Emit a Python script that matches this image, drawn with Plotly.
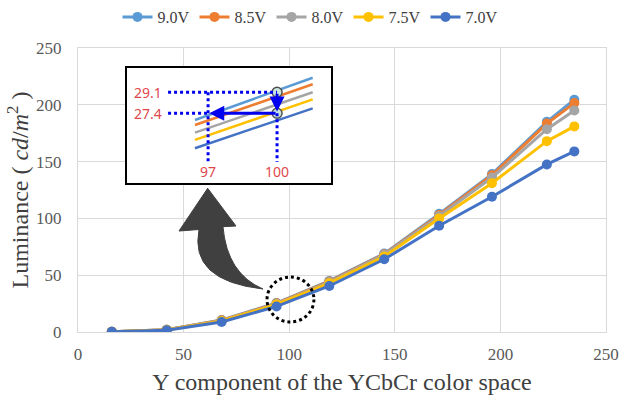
import plotly.graph_objects as go

# ---------------- data ----------------
x_vals = [16, 42, 68, 94, 119, 145, 171, 196, 222, 235]
series_names = ["9.0V", "8.5V", "8.0V", "7.5V", "7.0V"]
y_90 = [0.3, 2.0, 10.5, 25.5, 45.0, 69.0, 104.0, 139.0, 185.0, 204.5]
y_85 = [0.3, 2.0, 10.3, 25.2, 44.5, 68.5, 103.0, 138.0, 183.5, 201.5]
y_80 = [0.3, 1.9, 10.0, 24.8, 44.0, 68.0, 102.0, 136.0, 178.5, 195.0]
y_75 = [0.3, 1.8, 9.7, 24.3, 43.0, 66.5, 100.0, 131.0, 168.0, 181.0]
y_70 = [0.2, 1.5, 8.8, 22.5, 40.5, 64.0, 93.5, 119.0, 147.5, 159.0]
colors = ["#5B9BD5", "#ED7D31", "#A5A5A5", "#FFC000", "#4472C4"]

# inset (zoomed view around Y=97..100)
inset_x = [96.43, 101.55]
inset_90 = [26.86, 30.28]
inset_85 = [26.45, 29.75]
inset_80 = [25.83, 29.10]
inset_75 = [25.24, 28.53]
inset_70 = [24.57, 27.80]
zoom_x = [97, 100]
zoom_y = [27.4, 29.1]
zoom_labels_y = ["27.4", "29.1"]
zoom_labels_x = ["97", "100"]

x_ticks = [0, 50, 100, 150, 200, 250]
y_ticks = [0, 50, 100, 150, 200, 250]

# ---------------- layout geometry ----------------
W, H = 620, 401
ML, MT = 78, 48
MR, MB = W - 606, H - 332
PW, PH = W - ML - MR, H - MT - MB


def px(x, y):
    return (x - ML) / PW, 1 - (y - MT) / PH


fig = go.Figure()
all_y = [y_90, y_85, y_80, y_75, y_70]
for name, ys, c in zip(series_names, all_y, colors):
    fig.add_trace(go.Scatter(
        x=x_vals, y=ys, name=name, mode="lines+markers",
        line=dict(color=c, width=3), marker=dict(color=c, size=10),
    ))

inset_all = [inset_90, inset_85, inset_80, inset_75, inset_70]
for name, ys, c in zip(series_names, inset_all, colors):
    fig.add_trace(go.Scatter(
        x=inset_x, y=ys, mode="lines", showlegend=False, hoverinfo="skip",
        line=dict(color=c, width=2.5), xaxis="x2", yaxis="y2",
    ))

# inset x-domain / ranges
ix0, iy1 = px(126, 67)
ix1, iy0 = px(332, 184)
in_xr = [93.43, 102.39]
in_yr = [21.67, 31.15]
lab_x = 94.39
lab_y = 22.65
bot_y = 23.46
left_x = 95.26

shapes = []
# inset box
shapes.append(dict(type="rect", xref="paper", yref="paper", x0=ix0, x1=ix1, y0=iy0, y1=iy1,
                   line=dict(color="black", width=2), fillcolor="rgba(0,0,0,0)", layer="above"))
dot = dict(color="#0000EE", width=3, dash="dot")
shapes += [
    dict(type="line", xref="x2", yref="y2", x0=left_x, x1=zoom_x[1], y0=zoom_y[1], y1=zoom_y[1], line=dot),
    dict(type="line", xref="x2", yref="y2", x0=left_x, x1=zoom_x[0], y0=zoom_y[0], y1=zoom_y[0], line=dot),
    dict(type="line", xref="x2", yref="y2", x0=zoom_x[0], x1=zoom_x[0], y0=zoom_y[1], y1=bot_y, line=dot),
    dict(type="line", xref="x2", yref="y2", x0=zoom_x[1], x1=zoom_x[1], y0=zoom_y[0], y1=bot_y, line=dot),
]
# dotted circle on the main chart
shapes.append(dict(type="circle", xref="x", yref="y", x0=100.6 - 11.1, x1=100.6 + 11.1,
                   y0=28.6 - 19.8, y1=28.6 + 19.8,
                   line=dict(color="black", width=3, dash="dot")))

# big curved arrow
def P(x, y):
    a, b = px(x, y)
    return f"{a:.4f},{b:.4f}"

path = (f"M {P(179,231)} L {P(207.7,188.3)} L {P(236,226)} L {P(223,226.7)} "
        f"Q {P(227,273.6)} {P(263,289)} Q {P(189,280.8)} {P(199,229.5)} Z")
shapes.append(dict(type="path", xref="paper", yref="paper", path=path,
                   fillcolor="#404040", line=dict(color="#404040", width=1)))

red = "#E0474C"
lf = dict(family="Noto Sans, Open Sans, sans-serif", size=14, color=red)
annotations = []
for v, t in zip(zoom_y, zoom_labels_y):
    annotations.append(dict(x=lab_x, y=v, xref="x2", yref="y2", text=t, showarrow=False, font=lf))
for v, t in zip(zoom_x, zoom_labels_x):
    annotations.append(dict(x=v, y=lab_y, xref="x2", yref="y2", text=t, showarrow=False, font=lf))
# solid blue arrows
annotations.append(dict(x=zoom_x[1], y=zoom_y[0] + 0.15, ax=zoom_x[1], ay=zoom_y[1],
                        xref="x2", yref="y2", axref="x2", ayref="y2", text="",
                        showarrow=True, arrowhead=2, arrowsize=1, arrowwidth=3, arrowcolor="#0000EE"))
annotations.append(dict(x=zoom_x[0] + 0.05, y=zoom_y[0], ax=zoom_x[1], ay=zoom_y[0],
                        xref="x2", yref="y2", axref="x2", ayref="y2", text="",
                        showarrow=True, arrowhead=2, arrowsize=1, arrowwidth=3, arrowcolor="#0000EE"))

fig.add_trace(go.Scatter(
    x=[zoom_x[1], zoom_x[1]], y=zoom_y, mode="markers", showlegend=False, hoverinfo="skip",
    marker=dict(color="#C8E4DC", size=10, line=dict(color="#505050", width=1.5)),
    xaxis="x2", yaxis="y2",
))

serif = "Liberation Serif, Times New Roman, serif"
fig.update_layout(
    width=W, height=H,
    margin=dict(l=ML, r=MR, t=MT, b=MB, autoexpand=False),
    paper_bgcolor="white", plot_bgcolor="white",
    font=dict(family=serif, color="#404040"),
    showlegend=True,
    legend=dict(orientation="h", x=px(310, 0)[0], xanchor="center", y=px(0, 17)[1], yanchor="middle",
                font=dict(family=serif, size=16, color="#404040"), itemwidth=30,
                bgcolor="rgba(0,0,0,0)", tracegroupgap=0),
    xaxis=dict(range=[0, 250], tickvals=x_ticks, showgrid=True, gridcolor="#D9D9D9", gridwidth=1,
               zeroline=False, showline=True, linecolor="#D9D9D9", mirror=True, ticks="",
               automargin=False, ticklabelstandoff=7,
               tickfont=dict(family=serif, size=17, color="#595959"),
               title=dict(text="Y component of the YCbCr color space",
                          font=dict(family=serif, size=24, color="#404040"), standoff=9)),
    yaxis=dict(range=[0, 250], tickvals=y_ticks, showgrid=True, gridcolor="#D9D9D9", gridwidth=1,
               zeroline=False, showline=True, linecolor="#D9D9D9", mirror=True, ticks="",
               automargin=False, ticklabelstandoff=12,
               tickfont=dict(family=serif, size=17, color="#595959"),
               title=dict(text="Luminance ( <i>cd</i>/<i>m</i><sup>2</sup> )",
                          font=dict(family=serif, size=24, color="#404040"), standoff=0)),
    xaxis2=dict(domain=[ix0, ix1], range=in_xr, anchor="y2", visible=False, fixedrange=True),
    yaxis2=dict(domain=[iy0, iy1], range=in_yr, anchor="x2", visible=False, fixedrange=True),
    shapes=shapes,
    annotations=annotations,
)

fig.write_html("out.html", config={"displayModeBar": False},
               post_script="document.body.style.margin='0';document.body.style.overflow='hidden';")
